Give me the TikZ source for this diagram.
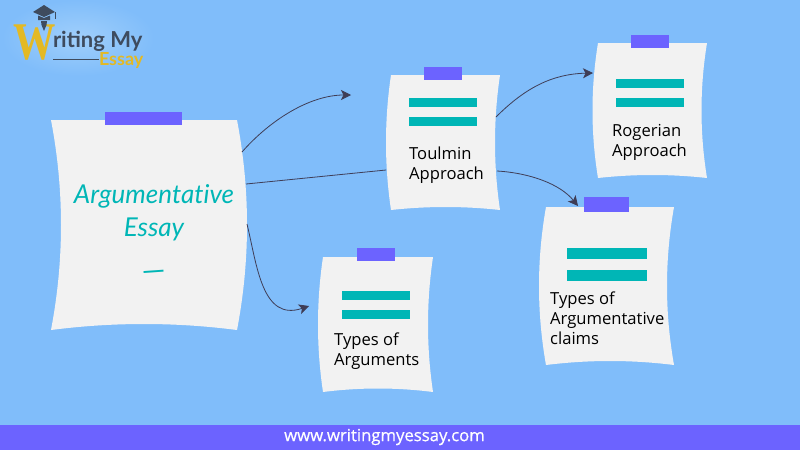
\documentclass[tikz,border=0pt]{standalone}
\usepackage{fontspec}
\setmainfont{Open Sans}
\newfontfamily\titlefont[Ligatures=NoCommon]{Lato}
\newfontfamily\logofont{Lato}
\newfontfamily\logoW{Liberation Serif}
\usetikzlibrary{arrows.meta,calc}
\definecolor{bgblue}{HTML}{80BDFA}
\definecolor{halo}{HTML}{A0CFFB}
\definecolor{tapeblue}{HTML}{6C63FF}
\definecolor{tealbar}{HTML}{00B6B6}
\definecolor{paperg}{HTML}{F2F2F2}
\definecolor{arrowink}{HTML}{3F3D56}
\definecolor{logoslate}{HTML}{3E4B5E}
\definecolor{logogold}{HTML}{E3B924}
\tikzset{
  paperfill/.style={fill=paperg},
  tape/.style={fill=tapeblue},
  bar/.style={fill=tealbar},
  anchorbox/.style={inner sep=0pt,outer sep=0pt},
  label/.style={anchor=north west,inner sep=0pt,align=left,text=black,font=\fontsize{16.6}{20}\selectfont},
  link/.style={draw=arrowink,line width=0.8pt},
  tip/.style={-{Stealth[length=10pt,width=10pt,inset=2.5pt]}}
}
% \paperat{name}{x0}{y0}{x1}{y1}{side bend}{bottom rise}
\newcommand{\paperat}[7]{%
  \pgfmathsetmacro{\pxm}{(#2+#4)/2}\pgfmathsetmacro{\pym}{(#3+#5)/2}
  \pgfmathsetmacro{\pw}{#4-#2}\pgfmathsetmacro{\ph}{#5-#3}
  \pgfmathsetmacro{\pca}{#3+\ph/3}\pgfmathsetmacro{\pcb}{#3+2*\ph/3}
  \pgfmathsetmacro{\pcc}{#5-(#7)*4/3}
  \pgfmathsetmacro{\pl}{#2+(#6)*4/3}\pgfmathsetmacro{\pr}{#4+(#6)*4/3}
  \pgfmathsetmacro{\pxa}{#2+\pw/3}\pgfmathsetmacro{\pxb}{#2+2*\pw/3}
  \fill[paperfill] (#2,#3) -- (#4,#3)
     .. controls (\pr,\pca) and (\pr,\pcb) .. (#4,#5)
     .. controls (\pxb,\pcc) and (\pxa,\pcc) .. (#2,#5)
     .. controls (\pl,\pcb) and (\pl,\pca) .. (#2,#3) -- cycle;
  \node[anchorbox,minimum width=\pw pt,minimum height=\ph pt] (#1) at (\pxm,\pym) {};
}
\begin{document}
\begin{tikzpicture}[x=1pt,y=-1pt]
\useasboundingbox (0,0) rectangle (800,450);
\fill[bgblue] (0,0) rectangle (800,450);

% logo
\shade[inner color=halo,outer color=bgblue] (78,38) ellipse [x radius=76,y radius=38];
\node[anchorbox,text=logogold,font=\logoW\bfseries\fontsize{53}{53}\selectfont,xscale=0.80,anchor=base] (logoW) at (35,59) {W};
\node[anchorbox,text=logoslate,font=\logofont\bfseries\fontsize{22}{24}\selectfont,anchor=base west] (logoT) at (53,47) {riting My};
\node[anchorbox,text=logogold,font=\logofont\bfseries\fontsize{18}{18}\selectfont,anchor=base west] (logoE) at (99,65.5) {Essay};
\coordinate (ruleL) at (53,59);
\draw[logoslate,line width=0.8pt] (ruleL) -- (logoE.west |- ruleL);
\fill[logoslate] (33,12) -- (44,5) -- (55,12) -- (44,17) -- cycle;
\fill[logoslate] (38,15.5) -- (44,18) -- (50,15.5) -- (50,20) -- (38,20) -- cycle;
\draw[logoslate,line width=0.7pt] (55,12) -- (55,19);
\fill[logoslate] (41,21) -- (47,21) -- (46.5,25) -- (44,31) -- (41.5,25) -- cycle;

% papers
\paperat{mainp}{51}{120}{237}{330}{10}{6}
\paperat{toulmin}{391}{75}{500}{210}{-5}{3}
\paperat{rogerian}{598}{43}{707}{178}{-5.5}{3}
\paperat{targs}{323}{257}{433}{392}{-5}{3.5}
\paperat{claims}{546}{207}{674}{365}{-7}{4}

% tapes
\fill[tape] (105,112) rectangle (182,125);
\fill[tape] (424,67) rectangle (462,80);
\fill[tape] (631,35) rectangle (669,48);
\fill[tape] (357,248) rectangle (395,261);
\fill[tape] (584,197) rectangle (629,212);

% bars
\fill[bar] (409,98) rectangle (477,107);
\fill[bar] (409,117) rectangle (477,126);
\fill[bar] (616,79) rectangle (684,88);
\fill[bar] (616,97.5) rectangle (684,107);
\fill[bar] (342,291) rectangle (410,300);
\fill[bar] (342,310) rectangle (410,319);
\fill[bar] (567,248) rectangle (647,259);
\fill[bar] (567,270) rectangle (647,281);

% texts
\node[anchorbox,align=center,text=tealbar,font=\titlefont\itshape\fontsize{26}{33}\selectfont] (title) at (154,213) {Argumentative\\Essay};
\node[anchorbox,text=tealbar,font=\titlefont\fontsize{30}{30}\selectfont,rotate=4] (dash) at (154,276) {—};
\node[label] (tT) at (409,146.5) {Toulmin\\Approach};
\node[label] (tR) at (612,124) {Rogerian\\Approach};
\node[label] (tA) at (334,332.5) {Types of\\Arguments};
\node[label] (tC) at (550,291.5) {Types of\\Argumentative\\claims};

% connectors
\coordinate (firstend) at (351,95);
\draw[link,tip] ($(mainp.north east)+(5,32)$) .. controls (270,120) and (310,95) .. (firstend);
\draw[link] ($(mainp.north east)+(9,64)$) -- ($(toulmin.north west)+(-5,95)$);
\draw[link,tip] ($(mainp.north east)+(10,104)$) .. controls (257,265) and (262,322) .. ($(targs.north west)+(-14,49)$);
\draw[link,tip] ($(toulmin.north east)+(-4,42)$) .. controls (525,88) and (552,74) .. ($(rogerian.north west)+(-5,30)$);
\draw[link,tip] ($(toulmin.north east)+(-3,96)$) .. controls (530,173) and (560,184) .. ($(claims.north west)+(32,-1)$);

% footer
\fill[tapeblue] (0,425) rectangle (800,450);
\node[anchorbox,text=white,font=\fontsize{16.7}{18}\selectfont\addfontfeature{FakeBold=0.6}] (foot) at (384.5,437) {www.writingmyessay.com};
\end{tikzpicture}
\end{document}
